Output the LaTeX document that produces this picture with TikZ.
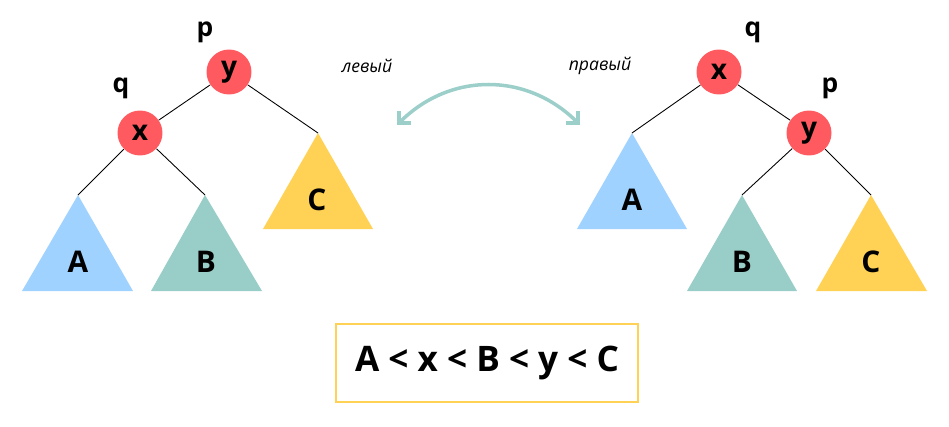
\documentclass[tikz,border=0pt]{standalone}
\usepackage{fontspec}
\setmainfont{Open Sans}
\usetikzlibrary{arrows.meta}
\definecolor{rd}{HTML}{FF5A5F}
\definecolor{bl}{HTML}{A0D2FF}
\definecolor{tc}{HTML}{99CEC8}
\definecolor{yl}{HTML}{FFD155}
\definecolor{ar}{HTML}{9CCFC9}
\begin{document}
\begin{tikzpicture}[x=0.02cm,y=-0.02cm,
  nd/.style={circle,fill=rd,minimum size=0.9cm,inner sep=0,font=\fontsize{16}{16}\selectfont\bfseries},
  lb/.style={font=\fontsize{15}{15}\selectfont\bfseries},
  tx/.style={font=\fontsize{17}{17}\selectfont\bfseries},
  ed/.style={draw=black,line width=0.5pt},
  it/.style={font=\fontsize{10}{10}\selectfont\itshape}]
\useasboundingbox (0,0) rectangle (949,426);
% left tree
\coordinate (lCt) at (318,133); \coordinate (lAt) at (78,195); \coordinate (lBt) at (205,195);
\fill[yl] (lCt) -- (263,229) -- (373,229) -- cycle;
\fill[bl] (lAt) -- (22,291) -- (133,291) -- cycle;
\fill[tc] (lBt) -- (151,291) -- (262,291) -- cycle;
\node[nd] (ly) at (229,72) {y};
\node[nd] (lx) at (140,133) {x};
\draw[ed] (ly) -- (lx); \draw[ed] (ly) -- (lCt);
\draw[ed] (lx) -- (lAt); \draw[ed] (lx) -- (lBt);
\node[lb] (lp) at (205,32) {p};
\node[lb] (lq) at (121,88) {q};
\node[tx] (lC) at (317,200) {C};
\node[tx] (lA) at (78,262) {A};
\node[tx] (lB) at (206,262) {B};
% right tree
\coordinate (rAt) at (632,133); \coordinate (rBt) at (742,195); \coordinate (rCt) at (871,195);
\fill[bl] (rAt) -- (577,229) -- (687,229) -- cycle;
\fill[tc] (rBt) -- (687,291) -- (797,291) -- cycle;
\fill[yl] (rCt) -- (816,291) -- (927,291) -- cycle;
\node[nd] (rx) at (719,72) {x};
\node[nd] (ry) at (809,133) {y};
\draw[ed] (rx) -- (ry); \draw[ed] (rx) -- (rAt);
\draw[ed] (ry) -- (rBt); \draw[ed] (ry) -- (rCt);
\node[lb] (rq) at (753,32) {q};
\node[lb] (rp) at (830,88) {p};
\node[tx] (rA) at (632,200) {A};
\node[tx] (rB) at (742,262) {B};
\node[tx] (rC) at (871,262) {C};
% arrow
\coordinate (a1) at (397,125); \coordinate (a2) at (580,125);
\draw[ar,line width=2pt,{Straight Barb[length=5pt,width=10pt]}-{Straight Barb[length=5pt,width=10pt]}] (a1) .. controls (450,72) and (527,72) .. (a2);
\node[it] (lev) at (367,66) {левый};
\node[it] (prav) at (600,66) {правый};
% box
\node[draw=yl,line width=1.5pt,minimum width=302*0.02cm,minimum height=78*0.02cm,font=\fontsize{20}{20}\selectfont\bfseries] (box) at (487,363) {A < x < B < y < C};
\end{tikzpicture}
\end{document}
